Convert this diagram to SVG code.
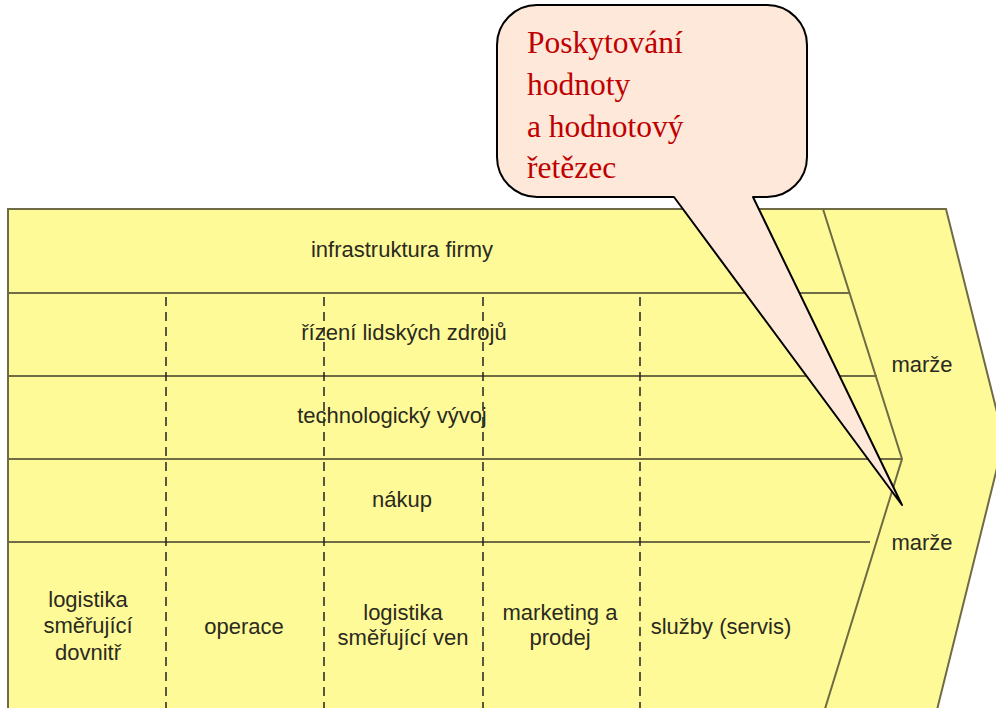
<svg xmlns="http://www.w3.org/2000/svg" width="996" height="708" viewBox="0 0 996 708">
  <style>
    .frame { fill: #FFFA98; stroke: #6E6B45; stroke-width: 2; }
    .row { stroke: #6E6B45; stroke-width: 2; fill: none; }
    .dash { stroke: #222; stroke-width: 1.5; stroke-dasharray: 9 6; fill: none; }
    .lbl { font-family: "Liberation Sans", Arial, sans-serif; font-size: 22px; fill: #2A2A1E; text-anchor: middle; }
    .note { fill: #FDE8D9; stroke: #000; stroke-width: 2; stroke-linejoin: round; }
    .noteText { font-family: "Liberation Serif", "Times New Roman", serif; font-size: 31.5px; fill: #C00000; }
  </style>

  <!-- value chain body with margin chevron -->
  <g id="chain">
    <path class="frame" d="M8,209 H946 L1004,440 L932,730 H8 Z"/>
    <path class="row" d="M823,209 L902,459 L820,725"/>
  </g>

  <!-- row dividers and activity separators -->
  <g id="connectors">
    <line class="row" x1="8" y1="293" x2="850" y2="293"/>
    <line class="row" x1="8" y1="376" x2="877" y2="376"/>
    <line class="row" x1="8" y1="459" x2="902" y2="459" stroke="#333"/>
    <line class="row" x1="8" y1="542" x2="870" y2="542"/>
    <line class="dash" x1="166" y1="297" x2="166" y2="708"/>
    <line class="dash" x1="324" y1="297" x2="324" y2="708"/>
    <line class="dash" x1="483" y1="297" x2="483" y2="708"/>
    <line class="dash" x1="640" y1="297" x2="640" y2="708"/>
  </g>

  <g id="infrastruktura"><text class="lbl" x="402" y="257">infrastruktura firmy</text></g>
  <g id="lidske-zdroje"><text class="lbl" x="404" y="340">řízení lidských zdrojů</text></g>
  <g id="technologie"><text class="lbl" x="392" y="423">technologický vývoj</text></g>
  <g id="nakup"><text class="lbl" x="402" y="507">nákup</text></g>

  <g id="logistika-dovnitr">
    <text class="lbl" x="88" y="607">logistika</text>
    <text class="lbl" x="88" y="633">směřující</text>
    <text class="lbl" x="88" y="660">dovnitř</text>
  </g>
  <g id="operace"><text class="lbl" x="244" y="634">operace</text></g>
  <g id="logistika-ven">
    <text class="lbl" x="403" y="620">logistika</text>
    <text class="lbl" x="403" y="645">směřující ven</text>
  </g>
  <g id="marketing">
    <text class="lbl" x="560" y="620">marketing a</text>
    <text class="lbl" x="560" y="645">prodej</text>
  </g>
  <g id="sluzby"><text class="lbl" x="721" y="634">služby (servis)</text></g>

  <g id="marze-horni"><text class="lbl" x="922" y="372">marže</text></g>
  <g id="marze-dolni"><text class="lbl" x="922" y="550">marže</text></g>

  <!-- speech bubble pointing at the margin -->
  <g id="bublina">
    <path class="note" d="M537,5 H767 A40,40 0 0 1 807,45 V157 A40,40 0 0 1 767,197 H753 L902,505 L674,197 H537 A40,40 0 0 1 497,157 V45 A40,40 0 0 1 537,5 Z"/>
    <text class="noteText" x="527" y="53">Poskytování</text>
    <text class="noteText" x="527" y="95">hodnoty</text>
    <text class="noteText" x="527" y="137">a hodnotový</text>
    <text class="noteText" x="527" y="178">řetězec</text>
  </g>
</svg>
